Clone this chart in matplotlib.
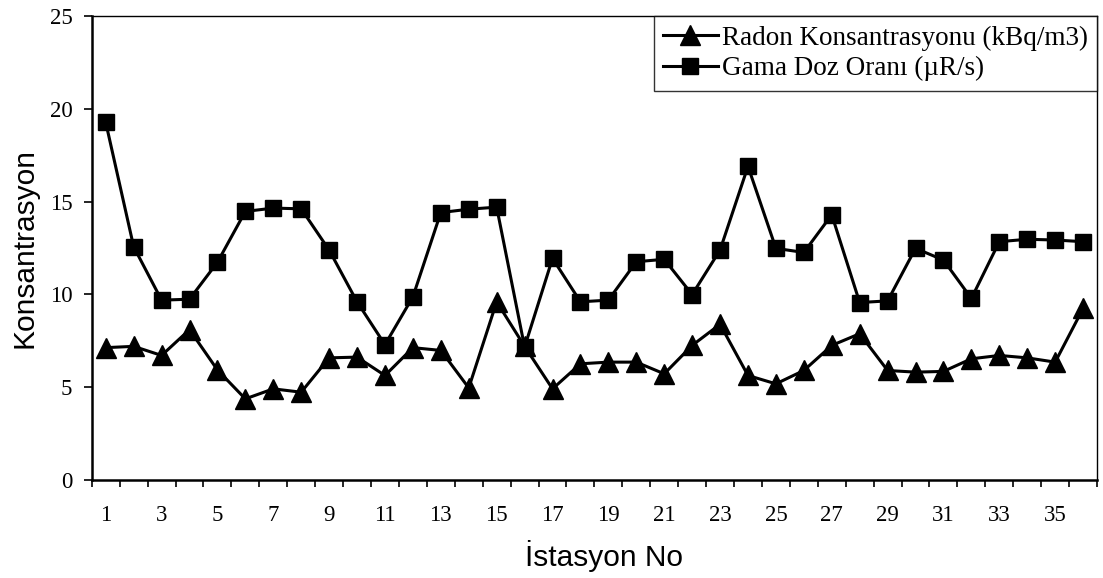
import matplotlib
matplotlib.use("Agg")
import matplotlib.pyplot as plt
import numpy as np
from matplotlib.ticker import FixedLocator, NullFormatter

stations = list(range(1, 37))
radon = [7.13, 7.2, 6.71, 8.1, 5.93, 4.37, 4.91, 4.73, 6.58, 6.62, 5.63, 7.13,
         6.98, 4.96, 9.6, 7.2, 4.91, 6.26, 6.35, 6.35, 5.72, 7.25, 8.39, 5.63,
         5.18, 5.9, 7.25, 7.88, 5.9, 5.81, 5.85, 6.53, 6.71, 6.58, 6.35, 9.24]
gama = [19.27, 12.57, 9.69, 9.74, 11.73, 14.47, 14.65, 14.61, 12.39, 9.6, 7.29, 9.87,
        14.41, 14.59, 14.7, 7.16, 11.94, 9.6, 9.69, 11.76, 11.89, 9.99, 12.39, 16.9,
        12.48, 12.26, 14.29, 9.56, 9.65, 12.48, 11.85, 9.78, 12.84, 12.97, 12.93, 12.84]
xticklabels = [str(s) for s in stations[::2]]
yticks = [0, 5, 10, 15, 20, 25]

serif = "Liberation Serif"
sans = "Liberation Sans"

fig = plt.figure(figsize=(11.03, 5.78), dpi=100)
ax = fig.add_axes([0.0832, 0.1696, 0.9114, 0.8027])

ax.plot(stations, radon, color="black", lw=2.2, marker="^", ms=14,
        label="Radon Konsantrasyonu (kBq/m3)")
ax.plot(stations, gama, color="black", lw=2.2, marker="s", ms=11.5,
        label="Gama Doz Oranı (µR/s)")

ax.set_xlim(0.5, 36.5)
ax.set_ylim(0, 25)
ax.set_yticks(yticks)
ax.set_xticks(stations[::2])
ax.set_xticklabels(xticklabels)
ax.xaxis.set_minor_locator(FixedLocator(np.arange(0.5, 37, 1.0)))
ax.xaxis.set_minor_formatter(NullFormatter())
ax.tick_params(axis="x", which="major", length=0, pad=18)
ax.tick_params(axis="x", which="minor", length=5, width=1.2, direction="out")
ax.tick_params(axis="y", which="major", length=6, width=1.2, direction="out", pad=8)
for lab in ax.get_xticklabels() + ax.get_yticklabels():
    lab.set_fontfamily(serif)
    lab.set_fontsize(16.5)

for sp in ax.spines.values():
    sp.set_linewidth(1.0)
ax.spines["left"].set_linewidth(1.8)
ax.spines["bottom"].set_linewidth(1.8)

ax.set_xlabel("İstasyon No", fontfamily=sans, fontsize=21.5, labelpad=10)
ax.xaxis.label.set_x(0.51)
ax.set_ylabel("Konsantrasyon", fontfamily=sans, fontsize=21.5, labelpad=8)

leg = ax.legend(loc="upper right", prop={"family": serif, "size": 19.5},
                frameon=True, fancybox=False, edgecolor="black",
                borderaxespad=0.0, handlelength=2.0, handletextpad=0.15,
                labelspacing=0.2, borderpad=0.35)
leg.get_frame().set_linewidth(1.0)

fig.savefig("out.png", dpi=100)
